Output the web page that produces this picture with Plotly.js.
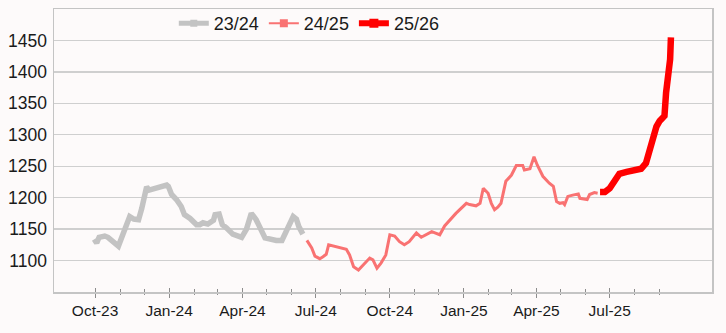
<!DOCTYPE html>
<html>
<head>
<meta charset="utf-8">
<script src="https://cdn.plot.ly/plotly-3.0.1.min.js"></script>
<style>
  html, body { margin: 0; padding: 0; background: #fdfafa; }
  #chart { width: 726px; height: 333px; }
</style>
</head>
<body>
<div id="chart"></div>
<script>
// ---- Data ----
const seriesNames = ['23/24', '24/25', '25/26'];

const dates2324 = ['2023-09-30','2023-10-03','2023-10-06','2023-10-13','2023-10-17','2023-10-24','2023-10-30',
  '2023-11-02','2023-11-07','2023-11-13','2023-11-18','2023-11-24','2023-11-28','2023-12-02','2023-12-04',
  '2023-12-07','2023-12-16','2023-12-29','2023-12-31','2024-01-04','2024-01-10','2024-01-16','2024-01-20',
  '2024-01-27','2024-02-04','2024-02-08','2024-02-12','2024-02-18','2024-02-25','2024-02-27','2024-03-03',
  '2024-03-07','2024-03-12','2024-03-16','2024-03-20','2024-03-31','2024-04-06','2024-04-12','2024-04-18',
  '2024-04-29','2024-05-05','2024-05-13','2024-05-20','2024-05-26','2024-06-03','2024-06-07','2024-06-10',
  '2024-06-15'];
const values2324 = [1134,1128,1137,1139,1137,1130,1123,
  1133,1149,1170,1166,1165,1183,1202,1217,
  1212,1215,1220,1218,1205,1197,1186,1173,
  1167,1157,1157,1160,1158,1164,1173,1174,
  1157,1152,1146,1142,1137,1150,1175,1165,
  1136,1134,1132,1132,1149,1170,1166,1154,
  1142];

const dates2425 = ['2024-06-20','2024-06-26','2024-06-30','2024-07-06','2024-07-10','2024-07-14','2024-07-17',
  '2024-07-23','2024-08-08','2024-08-12','2024-08-17','2024-08-23','2024-08-29','2024-09-06','2024-09-10',
  '2024-09-15','2024-09-20','2024-09-26','2024-10-01','2024-10-07','2024-10-13','2024-10-19','2024-10-25',
  '2024-11-03','2024-11-09','2024-11-15','2024-11-22','2024-11-26','2024-12-02','2024-12-08','2024-12-22',
  '2025-01-04','2025-01-08','2025-01-16','2025-01-21','2025-01-25','2025-01-31','2025-02-04','2025-02-08',
  '2025-02-12','2025-02-16','2025-02-22','2025-03-01','2025-03-07','2025-03-15','2025-03-17','2025-03-24',
  '2025-03-29','2025-04-02','2025-04-09','2025-04-17','2025-04-22','2025-04-26','2025-04-30','2025-05-04',
  '2025-05-06','2025-05-10','2025-05-16','2025-05-23','2025-05-25','2025-05-31','2025-06-03','2025-06-06',
  '2025-06-12','2025-06-16'];
const values2425 = [1132,1120,1107,1103,1106,1110,1125,
  1123,1118,1109,1090,1085,1093,1104,1101,
  1088,1096,1109,1141,1139,1130,1125,1130,
  1144,1137,1141,1146,1144,1141,1155,1175,
  1191,1189,1187,1191,1215,1207,1191,1181,
  1185,1191,1226,1236,1251,1251,1244,1246,
  1265,1252,1234,1223,1218,1194,1191,1192,
  1189,1202,1204,1206,1199,1198,1197,1205,
  1208,1207];

const dates2526 = ['2025-06-19','2025-06-25','2025-07-01','2025-07-07','2025-07-13','2025-07-22','2025-08-03',
  '2025-08-09','2025-08-15','2025-08-20','2025-08-24','2025-08-28','2025-09-01','2025-09-07','2025-09-09',
  '2025-09-13','2025-09-14','2025-09-15'];
const values2526 = [1209,1209,1215,1226,1238,1241,1243,
  1246,1255,1276,1298,1313,1322,1330,1367,
  1409,1420,1455];

// Axis ticks
const majorTicks = ['2023-10-01','2024-01-01','2024-04-01','2024-07-01','2024-10-01','2025-01-01','2025-04-01','2025-07-01'];
const minorTicks = ['2023-11-01','2023-12-01','2024-02-01','2024-03-01','2024-05-01','2024-06-01','2024-08-01',
  '2024-09-01','2024-11-01','2024-12-01','2025-02-01','2025-03-01','2025-05-01','2025-06-01','2025-08-01','2025-09-01'];
const yTicks = [1100,1150,1200,1250,1300,1350,1400,1450];
const xRange = ['2023-08-11','2025-11-05'];
const yRange = [1050,1500];

// ---- Styles ----
const colors = ['#c3c3c3', '#f97272', '#ff0000'];
const widths = [5.5, 3, 6.5];
const markerSizes = [7, 8, 9];
const font = 'Liberation Sans, Arial, sans-serif';
const bg = '#fdfafa';

const allDates = [dates2324, dates2425, dates2526];
const allValues = [values2324, values2425, values2526];

const traces = [];
for (let i = 0; i < 3; i++) {
  traces.push({
    type: 'scatter', mode: 'lines', x: allDates[i], y: allValues[i],
    line: {color: colors[i], width: widths[i], shape: 'linear'},
    showlegend: false, hoverinfo: 'x+y', name: seriesNames[i]
  });
}
// legend keys (line with square marker, as in the reference)
for (let i = 0; i < 3; i++) {
  traces.push({
    type: 'scatter', mode: 'lines+markers', x: [null], y: [null],
    name: seriesNames[i],
    line: {color: colors[i], width: Math.round(widths[i]) - 1},
    marker: {color: colors[i], size: markerSizes[i], symbol: 'square'},
    showlegend: true
  });
}
// tick mirror trace to draw the inside halves of the tick marks
traces.push({type: 'scatter', mode: 'lines', x: [null], y: [null], xaxis: 'x2', showlegend: false, hoverinfo: 'skip'});

const layout = {
  width: 726, height: 333,
  margin: {l: 54, r: 14, t: 9, b: 41, pad: 0, autoexpand: false},
  paper_bgcolor: bg, plot_bgcolor: bg,
  font: {family: font, size: 15, color: '#1a1a1a'},
  showlegend: true,
  legend: {
    orientation: 'h', x: 0.388, xanchor: 'center', y: 1.014, yanchor: 'top',
    bgcolor: 'rgba(0,0,0,0)', borderwidth: 0, font: {family: font, size: 18, color: '#1a1a1a'},
    itemgap: 0, tracegroupgap: 0
  },
  xaxis: {
    type: 'date', range: xRange,
    tickmode: 'array', tickvals: majorTicks, tickformat: '%b-%y',
    ticks: 'outside', ticklen: 4, tickwidth: 1, tickcolor: '#8c8c8c',
    minor: {tickmode: 'array', tickvals: minorTicks, ticks: 'outside', ticklen: 1, tickwidth: 1, tickcolor: '#8c8c8c', showgrid: false},
    showgrid: false, zeroline: false,
    showline: true, linecolor: '#c4c4c4', linewidth: 1.5, mirror: true,
    tickfont: {family: font, size: 15.5, color: '#1a1a1a'},
    ticklabelstandoff: 0
  },
  xaxis2: {
    type: 'date', range: xRange, overlaying: 'x', matches: 'x',
    tickmode: 'array', tickvals: majorTicks, showticklabels: false,
    ticks: 'inside', ticklen: 4, tickwidth: 1, tickcolor: '#8c8c8c',
    minor: {tickmode: 'array', tickvals: minorTicks, ticks: 'inside', ticklen: 3, tickwidth: 1, tickcolor: '#8c8c8c', showgrid: false},
    showgrid: false, zeroline: false, showline: false, anchor: 'y', side: 'bottom'
  },
  yaxis: {
    range: yRange, tickmode: 'array', tickvals: yTicks,
    showgrid: true, gridcolor: '#cfcfcf', gridwidth: 1.3,
    zeroline: false, ticks: '',
    showline: true, linecolor: '#c4c4c4', linewidth: 1.5, mirror: true,
    tickfont: {family: font, size: 17.5, color: '#1a1a1a'},
    ticklabelstandoff: 2
  }
};

Plotly.newPlot('chart', traces, layout, {displayModeBar: false, staticPlot: true});
</script>
</body>
</html>
